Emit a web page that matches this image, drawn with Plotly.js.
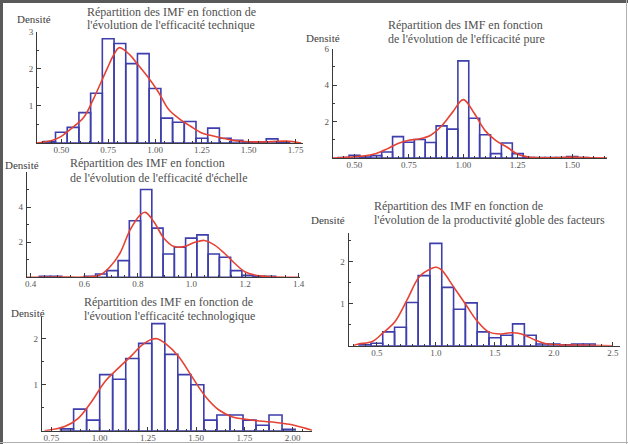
<!DOCTYPE html>
<html>
<head>
<meta charset="utf-8">
<script src="https://cdn.plot.ly/plotly-3.0.1.min.js"></script>
<style>html,body{margin:0;padding:0;background:#fff;}#chart{width:628px;height:444px;}</style>
</head>
<body>
<div id="chart"></div>
<script>
// ---------- DATA ----------
// Panel 1 : efficacité technique
const p1BinCenters = [0.4375, 0.5, 0.5625, 0.625, 0.6875, 0.75, 0.8125, 0.875, 0.9375, 1.0, 1.0625, 1.125, 1.1875, 1.25, 1.3125, 1.375, 1.4375, 1.5, 1.5625, 1.625, 1.6875];
const p1Density    = [0.04, 0.29, 0.42, 0.82, 1.34, 2.81, 2.68, 2.14, 2.41, 1.47, 0.67, 0.56, 0.58, 0.13, 0.40, 0.13, 0.07, 0.03, 0.03, 0.11, 0.03];
const p1BinWidth = 0.0625;
const p1CurveX = [0.37, 0.40, 0.45, 0.50, 0.556, 0.622, 0.669, 0.744, 0.782, 0.81, 0.867, 0.904, 0.96, 1.017, 1.073, 1.13, 1.19, 1.25, 1.30, 1.36, 1.42, 1.48, 1.57, 1.70, 1.78];
const p1CurveY = [0.0, 0.02, 0.07, 0.18, 0.40, 0.71, 1.16, 2.0, 2.4, 2.57, 2.37, 2.14, 1.79, 1.38, 0.9, 0.65, 0.45, 0.27, 0.20, 0.13, 0.07, 0.04, 0.03, 0.05, 0.0];

// Panel 2 : efficacité pure
const p2BinCenters = [0.45, 0.50, 0.55, 0.60, 0.65, 0.70, 0.75, 0.80, 0.85, 0.90, 0.95, 1.00, 1.05, 1.10, 1.15, 1.20, 1.25, 1.30, 1.35, 1.40, 1.45, 1.50, 1.55];
const p2Density    = [0.03, 0.15, 0.05, 0.13, 0.33, 1.17, 0.86, 1.01, 0.85, 1.76, 1.58, 5.32, 2.18, 1.27, 0.24, 0.82, 0.24, 0.03, 0.02, 0.02, 0.03, 0.08, 0.03];
const p2BinWidth = 0.05;
const p2CurveX = [0.40, 0.50, 0.55, 0.60, 0.65, 0.70, 0.75, 0.80, 0.85, 0.90, 0.95, 1.00, 1.05, 1.10, 1.15, 1.20, 1.25, 1.30, 1.35, 1.45, 1.50, 1.55, 1.66];
const p2CurveY = [0.0, 0.07, 0.12, 0.25, 0.5, 0.8, 0.97, 1.05, 1.25, 1.75, 2.5, 3.2, 2.45, 1.5, 0.95, 0.6, 0.2, 0.05, 0.01, 0.02, 0.05, 0.02, 0.0];

// Panel 3 : efficacité d'échelle
const p3BinCenters = [0.453, 0.495, 0.621, 0.663, 0.705, 0.747, 0.789, 0.831, 0.873, 0.915, 0.957, 0.999, 1.041, 1.083, 1.125, 1.167, 1.209, 1.251, 1.293];
const p3Density    = [0.06, 0.06, 0.05, 0.19, 0.38, 0.95, 3.22, 5.0, 2.8, 1.33, 1.71, 2.23, 2.42, 1.33, 1.14, 0.38, 0.12, 0.05, 0.06];
const p3BinWidth = 0.042;
const p3CurveX = [0.385, 0.50, 0.60, 0.658, 0.696, 0.733, 0.771, 0.809, 0.828, 0.859, 0.897, 0.935, 0.972, 1.01, 1.048, 1.085, 1.123, 1.161, 1.199, 1.236, 1.287, 1.35, 1.40];
const p3CurveY = [0.0, 0.02, 0.01, 0.13, 0.6, 1.37, 2.7, 3.56, 3.7, 3.18, 2.23, 1.75, 1.75, 1.98, 2.1, 1.85, 1.37, 0.8, 0.32, 0.13, 0.04, 0.0, 0.0];

// Panel 4 : productivité globale des facteurs
const p4BinCenters = [0.4, 0.5, 0.6, 0.7, 0.8, 0.9, 1.0, 1.1, 1.2, 1.3, 1.4, 1.5, 1.6, 1.7, 1.8, 1.9, 2.0, 2.1, 2.2, 2.3];
const p4Density    = [0.02, 0.06, 0.33, 0.44, 1.03, 1.67, 2.44, 1.39, 0.87, 1.02, 0.33, 0.19, 0.25, 0.52, 0.25, 0.04, 0.04, 0.02, 0.04, 0.04];
const p4BinWidth = 0.1;
const p4CurveX = [0.30, 0.344, 0.462, 0.55, 0.653, 0.756, 0.859, 0.962, 1.006, 1.05, 1.153, 1.256, 1.344, 1.447, 1.55, 1.638, 1.726, 1.844, 1.947, 2.05, 2.30, 2.50];
const p4CurveY = [0.0, 0.04, 0.1, 0.3, 0.57, 1.09, 1.64, 1.84, 1.87, 1.8, 1.39, 0.97, 0.61, 0.33, 0.28, 0.31, 0.28, 0.13, 0.04, 0.02, 0.01, 0.0];

// Panel 5 : efficacité technologique
const p5BinCenters = [0.831, 0.899, 0.966, 1.034, 1.101, 1.169, 1.236, 1.304, 1.371, 1.439, 1.506, 1.574, 1.641, 1.709, 1.776, 1.844, 1.911, 1.979];
const p5Density    = [0.04, 0.47, 0.23, 1.22, 1.12, 1.57, 1.9, 2.33, 1.66, 1.22, 1.0, 0.23, 0.34, 0.34, 0.23, 0.12, 0.34, 0.03];
const p5BinWidth = 0.0675;
const p5CurveX = [0.715, 0.819, 0.889, 0.958, 1.028, 1.097, 1.167, 1.219, 1.271, 1.297, 1.34, 1.41, 1.479, 1.549, 1.618, 1.688, 1.757, 1.826, 1.913, 1.983, 2.052, 2.10];
const p5CurveY = [0.0, 0.09, 0.27, 0.63, 1.07, 1.36, 1.64, 1.86, 1.99, 2.0, 1.9, 1.61, 1.17, 0.74, 0.45, 0.3, 0.25, 0.21, 0.18, 0.14, 0.07, 0.01];

const titles = [
  ["Répartition des IMF en fonction de", "l'évolution de l'efficacité technique"],
  ["Répartition des IMF en fonction", "de l'évolution de l'efficacité pure"],
  ["Répartition des IMF en fonction", "de l'évolution de l'efficacité d'échelle"],
  ["Répartition des IMF en fonction de", "l'évolution de la productivité globle des facteurs"],
  ["Répartition des IMF en fonction de", "l'évoution l'efficacité technologique"]
];
const yLabel = "Densité";

// ---------- LAYOUT HELPERS ----------
const W = 628, H = 444;
const px = v => v / W;
const py = v => 1 - v / H;
const SERIF = "Liberation Serif, Times New Roman, serif";
const BAR_COLOR = "rgb(62,62,172)";
const CURVE_COLOR = "rgb(230,66,52)";
const AXIS_COLOR = "#3a3a3a";
const TICK_FONT = {family: SERIF, size: 9, color: "#555"};

const panels = [
  {bins: p1BinCenters, dens: p1Density, bw: p1BinWidth, cx: p1CurveX, cy: p1CurveY,
   xpx: [37, 303], ypx: [143, 31.7], xr: [0.37, 1.79], yr: [0, 3.0],
   xt0: 0.5, xdt: 0.25, xfmt: ".2f", xminor: 0.05, yvals: [1, 2, 3], ytext: ["1", "2", "3"], yminor: [0.5, 1.5, 2.5],
   t: [85, 12, 25], d: [34, 19]},
  {bins: p2BinCenters, dens: p2Density, bw: p2BinWidth, cx: p2CurveX, cy: p2CurveY,
   xpx: [332.7, 607], ypx: [158, 48.5], xr: [0.40, 1.66], yr: [0, 6],
   xt0: 0.5, xdt: 0.25, xfmt: ".2f", xminor: 0.05, yvals: [2, 4, 6], ytext: ["2", "4", "6"], yminor: [1, 3, 5],
   t: [386, 25, 39], d: [323, 38]},
  {bins: p3BinCenters, dens: p3Density, bw: p3BinWidth, cx: p3CurveX, cy: p3CurveY,
   xpx: [26.7, 300], ypx: [277.3, 172], xr: [0.385, 1.405], yr: [0, 6],
   xt0: 0.4, xdt: 0.2, xfmt: ".1f", xminor: 0.05, yvals: [2, 4, 6], ytext: ["2", "4", ""], yminor: [1, 3, 5],
   t: [68, 163, 178], d: [22, 165]},
  {bins: p4BinCenters, dens: p4Density, bw: p4BinWidth, cx: p4CurveX, cy: p4CurveY,
   xpx: [348.5, 620], ypx: [345.7, 233.3], xr: [0.26, 2.56], yr: [0, 2.68],
   xt0: 0.5, xdt: 0.5, xfmt: ".1f", xminor: 0.1, yvals: [1, 2], ytext: ["1", "2"], yminor: [0.5, 1.5, 2.5],
   t: [372, 206, 220], d: [328, 220]},
  {bins: p5BinCenters, dens: p5Density, bw: p5BinWidth, cx: p5CurveX, cy: p5CurveY,
   xpx: [41.7, 312], ypx: [430.7, 316.7], xr: [0.70, 2.10], yr: [0, 2.48],
   xt0: 0.75, xdt: 0.25, xfmt: ".2f", xminor: 0.05, yvals: [1, 2], ytext: ["1", "2"], yminor: [0.5, 1.5],
   t: [82, 302, 316], d: [28, 313]}
];

const data = [];
const layout = {
  width: W, height: H,
  margin: {l: 0, r: 0, t: 0, b: 0},
  paper_bgcolor: "#fff", plot_bgcolor: "rgba(0,0,0,0)",
  showlegend: false,
  bargap: 0,
  annotations: [],
  shapes: [
    {type: "line", xref: "paper", yref: "paper", x0: 0, x1: 1, y0: py(1.5), y1: py(1.5), line: {color: "#5a5a5a", width: 3}},
    {type: "line", xref: "paper", yref: "paper", x0: px(1.5), x1: px(1.5), y0: 0, y1: 1, line: {color: "#5a5a5a", width: 3}},
    {type: "line", xref: "paper", yref: "paper", x0: px(626.5), x1: px(626.5), y0: 0, y1: 1, line: {color: "#b0b0b0", width: 1}},
    {type: "line", xref: "paper", yref: "paper", x0: 0, x1: 1, y0: py(442.5), y1: py(442.5), line: {color: "#b0b0b0", width: 1}}
  ]
};

panels.forEach((p, i) => {
  const n = i === 0 ? "" : String(i + 1);
  const xa = "x" + n, ya = "y" + n;
  data.push({
    type: "bar", x: p.bins, y: p.dens, width: p.bw, xaxis: xa, yaxis: ya,
    marker: {color: "rgba(255,255,255,0)", line: {color: BAR_COLOR, width: 1.6}},
    hoverinfo: "skip"
  });
  data.push({
    type: "scatter", mode: "lines", x: p.cx, y: p.cy, xaxis: xa, yaxis: ya,
    line: {color: CURVE_COLOR, width: 1.6, shape: "spline", smoothing: 1.0},
    hoverinfo: "skip", cliponaxis: false
  });
  layout["xaxis" + n] = {
    domain: [px(p.xpx[0]), px(p.xpx[1])], range: p.xr, anchor: ya,
    showgrid: false, zeroline: false, showline: true, linecolor: AXIS_COLOR, linewidth: 1,
    ticks: "inside", ticklen: 4, tickwidth: 1, tickcolor: AXIS_COLOR,
    tickmode: "linear", tick0: p.xt0, dtick: p.xdt, tickformat: p.xfmt,
    tickfont: TICK_FONT, ticklabelstandoff: -2,
    minor: {ticks: "inside", ticklen: 2, tickcolor: AXIS_COLOR, dtick: p.xminor, tick0: 0, showgrid: false},
    fixedrange: true
  };
  layout["yaxis" + n] = {
    domain: [py(p.ypx[0]), py(p.ypx[1])], range: p.yr, anchor: xa,
    showgrid: false, zeroline: false, showline: true, linecolor: AXIS_COLOR, linewidth: 1,
    ticks: "inside", ticklen: 4, tickwidth: 1, tickcolor: AXIS_COLOR,
    tickmode: "array", tickvals: p.yvals, ticktext: p.ytext,
    tickfont: TICK_FONT, ticklabelstandoff: 1,
    minor: {ticks: "inside", ticklen: 2, tickcolor: AXIS_COLOR, tickmode: "array", tickvals: p.yminor, showgrid: false},
    fixedrange: true
  };
  // two-line title, left aligned
  [0, 1].forEach(k => {
    layout.annotations.push({
      xref: "paper", yref: "paper", x: px(p.t[0]), y: py(p.t[1 + k]),
      xanchor: "left", yanchor: "middle", showarrow: false, align: "left",
      text: titles[i][k], font: {family: SERIF, size: 12, color: "#505050"}
    });
  });
  layout.annotations.push({
    xref: "paper", yref: "paper", x: px(p.d[0]), y: py(p.d[1]),
    xanchor: "center", yanchor: "middle", showarrow: false,
    text: yLabel, font: {family: SERIF, size: 11, color: "#404040"}
  });
});

Plotly.newPlot("chart", data, layout, {staticPlot: true, displayModeBar: false});
</script>
</body>
</html>
